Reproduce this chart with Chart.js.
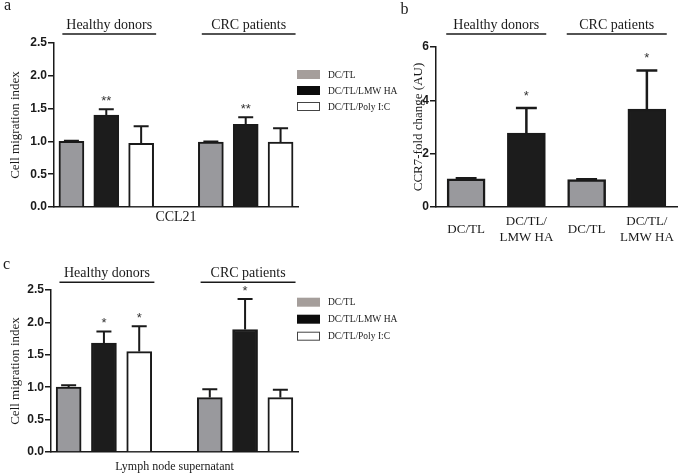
<!DOCTYPE html>
<html>
<head>
<meta charset="utf-8">
<script src="https://cdn.jsdelivr.net/npm/chart.js@4.4.1/dist/chart.umd.min.js"></script>
<style>
  body { margin: 0; background: #fff; }
  #page { position: relative; width: 680px; height: 475px; overflow: hidden; }
  canvas { position: absolute; }
</style>
</head>
<body>
<div id="page">
  <canvas id="chartA" width="410" height="235" style="left:0;top:0"></canvas>
  <canvas id="chartB" width="290" height="245" style="left:390px;top:0"></canvas>
  <canvas id="chartC" width="410" height="230" style="left:0;top:245px"></canvas>
</div>
<script>
// ---- data ----
const GROUPS = ['Healthy donors', 'CRC patients'];
const TREATMENTS = ['DC/TL', 'DC/TL/LMW HA', 'DC/TL/Poly I:C'];

// panel a : CCL21 migration
const ccl21TL = [1.00, 0.99];
const ccl21TLErr = [0.01, 0.01];
const ccl21LMW = [1.40, 1.26];
const ccl21LMWErr = [0.09, 0.11];
const ccl21LMWStars = ['**', '**'];
const ccl21Poly = [0.97, 0.99];
const ccl21PolyErr = [0.26, 0.21];

// panel b : CCR7 fold change
const ccr7Labels = ['DC/TL', ['DC/TL/', 'LMW HA'], 'DC/TL', ['DC/TL/', 'LMW HA']];
const ccr7TL = [1.06, 1.03];
const ccr7TLErr = [0.02, 0.01];
const ccr7LMW = [2.77, 3.67];
const ccr7LMWErr = [0.94, 1.45];
const ccr7LMWStars = ['*', '*'];

// panel c : lymph node supernatant migration
const lnTL = [1.00, 0.84];
const lnTLErr = [0.03, 0.13];
const lnLMW = [1.68, 1.89];
const lnLMWErr = [0.18, 0.47];
const lnLMWStars = ['*', '*'];
const lnPoly = [1.55, 0.84];
const lnPolyErr = [0.39, 0.12];
const lnPolyStars = ['*', ''];

const migrationTicksStep = 0.5;
const ccr7TicksStep = 2;

// ---- styles ----
const SERIF = "'Liberation Serif', 'Times New Roman', serif";
const SANS = "'Liberation Sans', Arial, sans-serif";
const INK = '#1a1a1a';
const BAR_COLORS = ['#99999d', '#1c1c1c', '#ffffff'];
const LEGEND_COLORS = ['#a59e9b', '#0c0c0c', '#ffffff'];

Chart.defaults.animation = false;
Chart.defaults.color = INK;
Chart.defaults.events = [];

// put a value per group into the slot list (blank slots stay null)
function toSlots(values, series, perGroup, nSlots) {
  const out = new Array(nSlots).fill(null);
  values.forEach((v, g) => { out[g * perGroup + series] = v; });
  return out;
}

function makeSet(series, vals, errs, stars, perGroup, nSlots, thick, bw) {
  return {
    label: TREATMENTS[series],
    data: toSlots(vals, series, perGroup, nSlots),
    errors: toSlots(errs, series, perGroup, nSlots),
    stars: toSlots(stars || vals.map(() => ''), series, perGroup, nSlots),
    backgroundColor: BAR_COLORS[series],
    borderColor: INK,
    borderWidth: bw,
    barThickness: thick,
    grouped: false
  };
}

// panel decorations: error bars, stars, group headers, legend, letter
const DECOR = {
  chartA: {
    letter: 'a', letterX: 4, letterY: 10,
    capRatio: 0.6, errWidth: 2, starGap: 4, starSize: 13,
    groups: [[0, 2], [4, 6]], headY: 25, lineY: 34, lineL: 0.26, lineR: 0.43,
    legend: { x: 297, y: 70, dy: 16 }
  },
  chartB: {
    letter: 'b', letterX: 10.5, letterY: 13.5,
    capRatio: 0.55, errWidth: 2.5, starGap: 8, starSize: 13,
    groups: [[0, 1], [2, 3]], headY: 25, lineY: 34, lineL: 0.33, lineR: 0.33,
    legend: null
  },
  chartC: {
    letter: 'c', letterX: 3, letterY: 23.5,
    capRatio: 0.6, errWidth: 2, starGap: 4, starSize: 13,
    groups: [[0, 2], [4, 6]], headY: 28.5, lineY: 37.3, lineL: 0.26, lineR: 0.43,
    legend: { x: 297, y: 52.7, dy: 17 }
  }
};

const panelDecor = {
  id: 'panelDecor',
  afterDatasetsDraw(chart) {
    const cfg = DECOR[chart.canvas.id];
    const ctx = chart.ctx;
    const xs = chart.scales.x;
    const ys = chart.scales.y;
    ctx.save();
    ctx.strokeStyle = INK;
    ctx.fillStyle = '#333';
    ctx.textAlign = 'center';
    ctx.textBaseline = 'alphabetic';
    ctx.font = cfg.starSize + 'px ' + SANS;
    chart.data.datasets.forEach((ds, di) => {
      const meta = chart.getDatasetMeta(di);
      meta.data.forEach((bar, i) => {
        const v = ds.data[i];
        if (v == null) return;
        const top = ys.getPixelForValue(v + ds.errors[i]);
        const half = bar.width * cfg.capRatio / 2;
        ctx.lineWidth = cfg.errWidth;
        ctx.beginPath();
        ctx.moveTo(bar.x, bar.y);
        ctx.lineTo(bar.x, top);
        ctx.moveTo(bar.x - half, top);
        ctx.lineTo(bar.x + half, top);
        ctx.stroke();
        if (ds.stars[i]) ctx.fillText(ds.stars[i], bar.x, top - cfg.starGap);
      });
    });

    // group headers
    const slot = xs.getPixelForValue(1) - xs.getPixelForValue(0);
    ctx.font = '14px ' + SERIF;
    ctx.fillStyle = INK;
    ctx.textBaseline = 'middle';
    cfg.groups.forEach((g, gi) => {
      const l = xs.getPixelForValue(g[0]) - cfg.lineL * slot;
      const r = xs.getPixelForValue(g[1]) + cfg.lineR * slot;
      ctx.lineWidth = 1.5;
      ctx.beginPath();
      ctx.moveTo(l, cfg.lineY);
      ctx.lineTo(r, cfg.lineY);
      ctx.stroke();
      ctx.fillText(GROUPS[gi], (l + r) / 2, cfg.headY);
    });

    // legend
    if (cfg.legend) {
      const lg = cfg.legend;
      ctx.font = '9.5px ' + SERIF;
      ctx.textAlign = 'left';
      chart.data.datasets.forEach((ds, di) => {
        const y = lg.y + di * lg.dy;
        ctx.fillStyle = LEGEND_COLORS[di];
        ctx.fillRect(lg.x, y, 23, 9);
        if (di === 2) {
          ctx.lineWidth = 1;
          ctx.strokeStyle = '#444';
          ctx.strokeRect(lg.x + 0.5, y + 0.5, 22, 8);
        }
        ctx.fillStyle = INK;
        ctx.fillText(ds.label, lg.x + 31, y + 5);
      });
    }

    // panel letter
    ctx.font = '16px ' + SERIF;
    ctx.textAlign = 'left';
    ctx.textBaseline = 'alphabetic';
    ctx.fillStyle = INK;
    ctx.fillText(cfg.letter, cfg.letterX, cfg.letterY);
    ctx.restore();
  }
};

function yAxis(max, step, digits, title, width, titlePad) {
  return {
    min: 0, max: max,
    ticks: {
      stepSize: step,
      callback: v => v.toFixed(digits),
      font: { family: SANS, weight: 'bold', size: 12 },
      color: INK, padding: 1
    },
    grid: { display: true, drawOnChartArea: false, drawTicks: true, tickLength: 6, color: INK, lineWidth: 1.5 },
    border: { display: true, color: INK, width: 1.5 },
    title: { display: true, text: title, font: { family: SERIF, size: 13 }, color: INK, padding: { top: titlePad, bottom: 0 } },
    afterFit: s => { s.width = width; }
  };
}

// fixed x axis height, no extra side padding from labels
function fixX(h) {
  return s => { s.height = h; s.paddingLeft = 0; s.paddingRight = 0; };
}

// panel a
const slotsAC = 7;
new Chart(document.getElementById('chartA'), {
  type: 'bar',
  data: {
    labels: new Array(slotsAC).fill(''),
    datasets: [
      makeSet(0, ccl21TL, ccl21TLErr, null, 4, slotsAC, 25, 2),
      makeSet(1, ccl21LMW, ccl21LMWErr, ccl21LMWStars, 4, slotsAC, 25, 2),
      makeSet(2, ccl21Poly, ccl21PolyErr, null, 4, slotsAC, 25, 2)
    ]
  },
  options: {
    responsive: false,
    layout: { padding: { left: 0, top: 43, right: 112, bottom: 0 } },
    plugins: { legend: { display: false }, tooltip: { enabled: false } },
    scales: {
      x: {
        ticks: { display: false },
        grid: { display: false, drawTicks: false },
        border: { display: true, color: INK, width: 1.5 },
        title: { display: true, text: 'CCL21', font: { family: SERIF, size: 14 }, color: INK, padding: { top: 0, bottom: 9 } },
        afterFit: fixX(28)
      },
      y: yAxis(2.5, migrationTicksStep, 1, 'Cell migration index', 54, 8)
    }
  },
  plugins: [panelDecor]
});

// panel b
new Chart(document.getElementById('chartB'), {
  type: 'bar',
  data: {
    labels: ccr7Labels,
    datasets: [
      makeSet(0, ccr7TL, ccr7TLErr, null, 2, 4, 38, 2.5),
      makeSet(1, ccr7LMW, ccr7LMWErr, ccr7LMWStars, 2, 4, 38, 2.5)
    ]
  },
  options: {
    responsive: false,
    layout: { padding: { left: 0, top: 47, right: 3, bottom: 0 } },
    plugins: { legend: { display: false }, tooltip: { enabled: false } },
    scales: {
      x: {
        ticks: { font: { family: SERIF, size: 13, lineHeight: 1.23 }, color: INK, padding: 15, maxRotation: 0, crossAlign: 'center' },
        grid: { display: false, drawTicks: false },
        border: { display: true, color: INK, width: 1.5 },
        afterFit: fixX(38)
      },
      y: yAxis(6, ccr7TicksStep, 0, 'CCR7-fold change (AU)', 46, 21)
    }
  },
  plugins: [panelDecor]
});

// panel c
new Chart(document.getElementById('chartC'), {
  type: 'bar',
  data: {
    labels: new Array(slotsAC).fill(''),
    datasets: [
      makeSet(0, lnTL, lnTLErr, null, 4, slotsAC, 25, 2),
      makeSet(1, lnLMW, lnLMWErr, lnLMWStars, 4, slotsAC, 25, 2),
      makeSet(2, lnPoly, lnPolyErr, lnPolyStars, 4, slotsAC, 25, 2)
    ]
  },
  options: {
    responsive: false,
    layout: { padding: { left: 0, top: 45, right: 112, bottom: 0 } },
    plugins: { legend: { display: false }, tooltip: { enabled: false } },
    scales: {
      x: {
        ticks: { display: false },
        grid: { display: false, drawTicks: false },
        border: { display: true, color: INK, width: 1.5 },
        title: { display: true, text: 'Lymph node supernatant', font: { family: SERIF, size: 12 }, color: INK, padding: { top: 0, bottom: 1 } },
        afterFit: fixX(23)
      },
      y: yAxis(2.5, migrationTicksStep, 1, 'Cell migration index', 51, 8)
    }
  },
  plugins: [panelDecor]
});
</script>
</body>
</html>
